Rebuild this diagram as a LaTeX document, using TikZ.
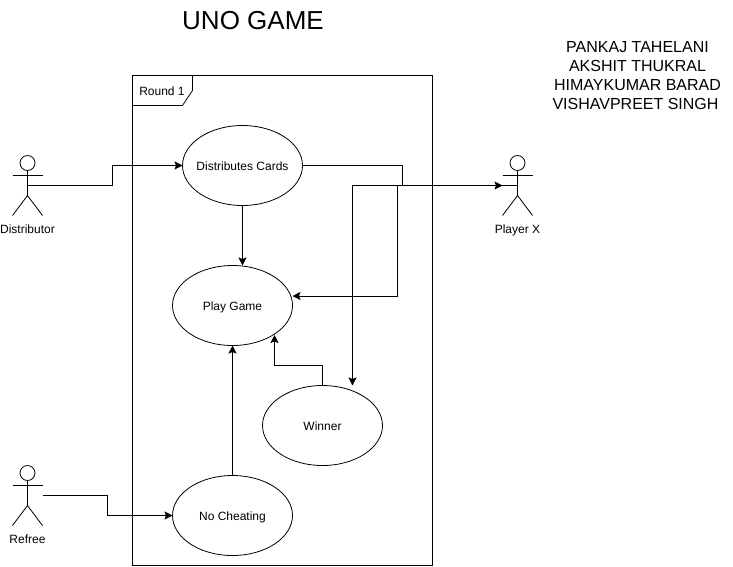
\documentclass[tikz,border=0pt]{standalone}
\usepackage{fontspec}
\setmainfont{Liberation Sans}
\usetikzlibrary{positioning}
\usetikzlibrary{shapes.geometric}
\usetikzlibrary{arrows.meta}
\usetikzlibrary{calc}
\tikzset{
  usecase/.style={draw,ellipse,line width=0.8pt,minimum width=120pt,minimum height=80pt,inner sep=-8pt,outer sep=0pt,text height=9pt,text depth=0pt,font=\fontsize{12}{14}\selectfont},
  actorbox/.style={inner sep=0pt,outer sep=0pt,minimum width=30pt,minimum height=60pt},
  actorname/.style={inner sep=0pt,font=\fontsize{12}{14}\selectfont},
  link/.style={line width=1pt,->},
}
% stick figure on top of an empty node
\newcommand{\stickman}[3]{
\node[actorbox] (#1) at (#2) {};
\draw [line width=0.8pt] ($(#1.north)+(0,7.5)$) circle (7.5pt);
\draw [line width=0.8pt] ($(#1.north)+(0,15)$) -- ($(#1.north)+(0,40)$);
\draw [line width=0.8pt] ($(#1.north west)+(0,20)$) -- ($(#1.north east)+(0,20)$);
\draw [line width=0.8pt] (#1.south west) -- ($(#1.north)+(0,40)$) -- (#1.south east);
\node[actorname,below=9pt of #1] (#1label) {#3};
}
\begin{document}
\begin{tikzpicture}[x=1pt,y=-1pt,line cap=butt,line join=miter,>={Stealth[length=8pt,width=8pt,inset=1.5pt]}]
\useasboundingbox (0,0) rectangle (733,566);

\node (title) at (253,20.5) {\fontsize{26}{30}\selectfont UNO GAME};
\node[align=center,inner sep=0pt,font=\fontsize{16}{19}\selectfont] (names) at (637.5,75.5) {PANKAJ TAHELANI\\AKSHIT THUKRAL\\HIMAYKUMAR BARAD\\VISHAVPREET SINGH\hspace*{4pt}};

% frame
\node[draw,line width=0.8pt,inner sep=0pt,outer sep=0pt,minimum width=300pt,minimum height=490pt] (round) at (282.5,320.5) {};
\draw [line width=0.8pt] ($(round.north west)+(60,0)$) -- ($(round.north west)+(60,15)$) -- ($(round.north west)+(50,30)$) -- ($(round.north west)+(0,30)$);
\node[actorname] (roundlabel) at (162,91) {Round 1};

\node[usecase] (cards) at (242.5,165.5) {Distributes Cards};
\node[usecase] (play) at (232.5,305.5) {Play Game};
\node[usecase] (winner) at (322.5,425.5) {Winner};
\node[usecase] (fair) at (232.5,515.5) {No Cheating};

\stickman{distributor}{27.5,185.5}{Distributor}
\stickman{playerx}{517.5,185.5}{Player X}
\stickman{refree}{27.5,495.5}{Refree}

\coordinate (cardsbend) at (402.5,185.5);
\coordinate (playbend) at (397.5,185.5);
\coordinate (playright) at (292.5,296);
\coordinate (winnertop) at (352.5,385.5);
\coordinate (playlow) at (274.5,335);

\draw [link] (distributor.center) -- (112.5,185.5) -- (112.5,165.5) -- (cards.west);
\draw [link] (cards.east) -| (cardsbend) -- (playerx.west);
\draw [line width=1pt] (playerx.west) -- (playerx.center);
\draw [link] (playerx.center) -| (winnertop);
\draw [link] (playbend) |- (playright);
\draw [link] (cards.south) -- (242.5,265.5);
\draw [link] (winner.north) -- (322.5,365.5) -| (playlow);
\draw [link] (fair.north) -- (play.south);
\draw [link] (refree.east) -- (107.5,495.5) -- (107.5,515.5) -- (fair.west);
\end{tikzpicture}
\end{document}
